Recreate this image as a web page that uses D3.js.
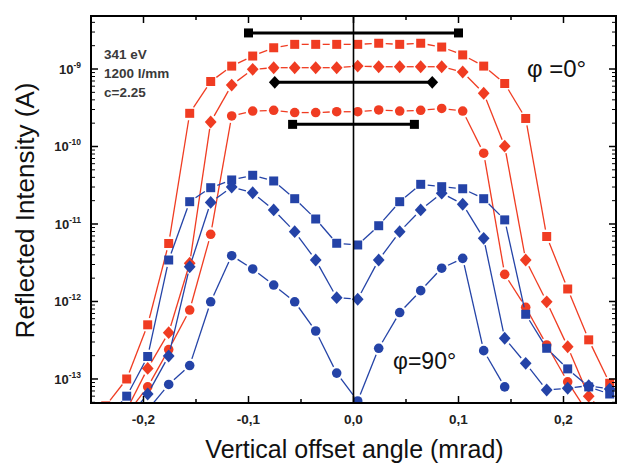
<!DOCTYPE html>
<html><head><meta charset="utf-8">
<script src="https://cdn.jsdelivr.net/npm/d3@7"></script>
<style>body{margin:0;background:#fff}svg{display:block}</style>
</head><body><svg id="c" width="618" height="465"></svg>
<script>
// ---- data ----
const angles = [-0.236,-0.216,-0.196,-0.176,-0.156,-0.136,-0.116,-0.096,-0.076,-0.056,-0.036,-0.016,0.004,0.024,0.044,0.064,0.084,0.104,0.124,0.144,0.164,0.184,0.204,0.224,0.244];
// phi = 0 deg (red)
const redSquare  = [4.5e-14,1.0e-13,5.0e-13,5.6e-12,2.68e-10,6.9e-10,1.09e-9,1.47e-9,1.88e-9,2.08e-9,2.08e-9,2.08e-9,2.08e-9,2.15e-9,2.08e-9,2.15e-9,1.92e-9,1.52e-9,1.09e-9,6.5e-10,2.3e-10,6.9e-12,1.45e-12,3.2e-13,8.8e-14];
const redDiamond = [null,4.0e-14,1.37e-13,3.96e-13,3.11e-12,2.07e-10,6.2e-10,9.9e-10,1.04e-9,1.04e-9,1.04e-9,1.04e-9,1.09e-9,1.07e-9,1.07e-9,1.07e-9,1.07e-9,9.15e-10,4.86e-10,1.01e-10,3.43e-12,9.9e-13,2.61e-13,6.0e-14,3.0e-14];
const redCircle  = [null,3.5e-14,7.9e-14,2.4e-13,7.76e-13,7.36e-12,2.48e-10,2.87e-10,2.93e-10,2.74e-10,2.74e-10,2.81e-10,2.81e-10,2.96e-10,2.87e-10,2.93e-10,3.1e-10,2.87e-10,8.2e-11,2.24e-12,8.4e-13,2.75e-13,9.2e-14,3.5e-14,null];
// phi = 90 deg (blue)
const blueSquare  = [3.0e-14,6.0e-14,1.95e-13,3.43e-12,1.94e-11,2.94e-11,3.7e-11,4.25e-11,3.59e-11,2.12e-11,1.16e-11,5.64e-12,5.36e-12,9.5e-12,1.94e-11,3.25e-11,3.03e-11,2.85e-11,2.12e-11,1.13e-11,6.84e-13,2.49e-13,1.35e-13,7.9e-14,6.4e-14];
const blueDiamond = [null,3.0e-14,6.4e-14,1.98e-13,2.81e-12,1.9e-11,3.0e-11,2.53e-11,1.52e-11,7.96e-12,3.43e-12,1.12e-12,1.07e-12,3.43e-12,7.96e-12,1.52e-11,2.5e-11,1.8e-11,6.53e-12,3.35e-13,1.59e-13,7.2e-14,7.6e-14,8.2e-14,7.4e-14];
const blueCircle  = [null,null,4.0e-14,8.5e-14,1.49e-13,9.9e-13,3.9e-12,2.63e-12,1.63e-12,9.9e-13,4.16e-13,1.19e-13,5.2e-14,2.49e-13,7.2e-13,1.38e-12,2.69e-12,3.6e-12,2.32e-13,7.9e-14,null,null,null,null,null];
// width bars (black)
const barShapes = ["square","diamond","square"];
const barFrom   = [-0.1,-0.075,-0.058];
const barTo     = [0.1,0.075,0.058];
const barLevel  = [2.92e-9,6.73e-10,1.93e-10];
// axes
const xMajorTicks = [-0.2,-0.1,0,0.1,0.2];
const xTickLabels = ["-0,2","-0,1","0,0","0,1","0,2"];
const xMinorTicks = [-0.15,-0.05,0.05,0.15];
const yExponents  = [-13,-12,-11,-10,-9];
const annotations = ["341 eV","1200 l/mm","c=2.25"];

// ---- drawing ----
const L=91,R=616,T=16,B=403;
const RED="#f03c22", BLUE="#2443a7";
const svg=d3.select("#c");
const x=d3.scaleLinear().domain([-0.25,0.25]).range([L,R]);
const y=d3.scaleLog().domain([Math.pow(10,-13.31),Math.pow(10,-8.316)]).range([B,T]);

svg.append("defs").append("clipPath").attr("id","pc")
  .append("rect").attr("x",L).attr("y",T).attr("width",R-L).attr("height",B-T);
const plot=svg.append("g").attr("clip-path","url(#pc)");

function shapePath(shape,size){
  const t = shape==="square"?d3.symbolSquare:shape==="diamond"?d3.symbolDiamond2:d3.symbolCircle;
  return d3.symbol().type(t).size(size)();
}
function marker(g,shape,px,py,color){
  const s = shape==="square"?81:shape==="diamond"?80:72;
  return g.append("path").attr("d",shapePath(shape,s)).attr("fill",color)
    .attr("transform",`translate(${px},${py})`+(shape==="diamond"?" scale(1.05,1.15)":""));
}
function drawSeries(vals,color,shape){
  const g=plot.append("g");
  const pts=angles.map((a,i)=>vals[i]==null?null:[x(a),y(vals[i])]);
  const gap=7;
  for(let i=0;i<pts.length-1;i++){
    const a=pts[i],b=pts[i+1];
    if(!a||!b) continue;
    const dx=b[0]-a[0],dy=b[1]-a[1],len=Math.hypot(dx,dy);
    if(len<=2*gap) continue;
    const ux=dx/len,uy=dy/len;
    g.append("line").attr("x1",a[0]+ux*gap).attr("y1",a[1]+uy*gap)
      .attr("x2",b[0]-ux*gap).attr("y2",b[1]-uy*gap)
      .attr("stroke",color).attr("stroke-width",1.3);
  }
  pts.forEach(p=>{ if(p) marker(g,shape,p[0],p[1],color); });
}
drawSeries(redSquare,RED,"square");
drawSeries(redDiamond,RED,"diamond");
drawSeries(redCircle,RED,"circle");
drawSeries(blueSquare,BLUE,"square");
drawSeries(blueDiamond,BLUE,"diamond");
drawSeries(blueCircle,BLUE,"circle");

// vertical zero line
svg.append("line").attr("x1",x(0)).attr("x2",x(0)).attr("y1",T).attr("y2",B)
  .attr("stroke","#000").attr("stroke-width",1.6);

// width bars
barShapes.forEach((s,i)=>{
  const yy=y(barLevel[i]);
  svg.append("line").attr("x1",x(barFrom[i])).attr("x2",x(barTo[i])).attr("y1",yy).attr("y2",yy)
    .attr("stroke","#000").attr("stroke-width",3);
  marker(svg,s,x(barFrom[i]),yy,"#000");
  marker(svg,s,x(barTo[i]),yy,"#000");
});

// frame
svg.append("rect").attr("x",L).attr("y",T).attr("width",R-L).attr("height",B-T)
  .attr("fill","none").attr("stroke","#000").attr("stroke-width",2);

// x ticks (inward, bottom and top)
const tk=svg.append("g").attr("stroke","#000").attr("stroke-width",1.5);
xMajorTicks.forEach(v=>{
  tk.append("line").attr("x1",x(v)).attr("x2",x(v)).attr("y1",B).attr("y2",B-7);
  tk.append("line").attr("x1",x(v)).attr("x2",x(v)).attr("y1",T).attr("y2",T+7);
});
xMinorTicks.forEach(v=>{
  tk.append("line").attr("x1",x(v)).attr("x2",x(v)).attr("y1",B).attr("y2",B-4);
  tk.append("line").attr("x1",x(v)).attr("x2",x(v)).attr("y1",T).attr("y2",T+4);
});
// y ticks (log, inward, left and right)
yExponents.forEach(e=>{
  const yy=y(Math.pow(10,e));
  tk.append("line").attr("x1",L).attr("x2",L+7).attr("y1",yy).attr("y2",yy);
  tk.append("line").attr("x1",R).attr("x2",R-7).attr("y1",yy).attr("y2",yy);
});
const minorTk=svg.append("g").attr("stroke","#000").attr("stroke-width",1);
for(let e=-14;e<=-9;e++){
  for(let k=2;k<=9;k++){
    const v=k*Math.pow(10,e);
    if(v<y.domain()[0]||v>y.domain()[1]) continue;
    const yy=y(v);
    minorTk.append("line").attr("x1",L).attr("x2",L+4).attr("y1",yy).attr("y2",yy);
    minorTk.append("line").attr("x1",R).attr("x2",R-4).attr("y1",yy).attr("y2",yy);
  }
}

// x tick labels
const ff="'Liberation Sans', Arial, sans-serif";
xMajorTicks.forEach((v,i)=>{
  svg.append("text").attr("x",x(v)).attr("y",424).attr("text-anchor","middle")
    .attr("font-family",ff).attr("font-weight","bold").attr("font-size",13.5)
    .attr("fill","#222").text(xTickLabels[i]);
});
// y tick labels
yExponents.forEach(e=>{
  const t=svg.append("text").attr("x",81).attr("y",y(Math.pow(10,e))+5).attr("text-anchor","end")
    .attr("font-family",ff).attr("font-weight","bold").attr("font-size",13).attr("fill","#222");
  t.append("tspan").text("10");
  t.append("tspan").attr("dy",-6).attr("font-size",8.5).text(String(e));
});

// axis titles
svg.append("text").attr("x",354.5).attr("y",458).attr("text-anchor","middle")
  .attr("font-family",ff).attr("font-size",25).attr("fill","#111").text("Vertical offset angle (mrad)");
svg.append("text").attr("transform","translate(34,210.5) rotate(-90)").attr("text-anchor","middle")
  .attr("font-family",ff).attr("font-size",26).attr("fill","#111").text("Reflected Intensity (A)");

// annotations
annotations.forEach((s,i)=>{
  svg.append("text").attr("x",104).attr("y",59+i*18.8)
    .attr("font-family",ff).attr("font-weight","bold").attr("font-size",13.5).attr("fill","#3a3a3a").text(s);
});
svg.append("text").attr("x",527).attr("y",77).attr("font-family",ff).attr("font-size",24)
  .attr("fill","#111").text("φ =0°");
svg.append("text").attr("x",393).attr("y",369).attr("font-family",ff).attr("font-size",23)
  .attr("fill","#111").text("φ=90°");
</script></body></html>
